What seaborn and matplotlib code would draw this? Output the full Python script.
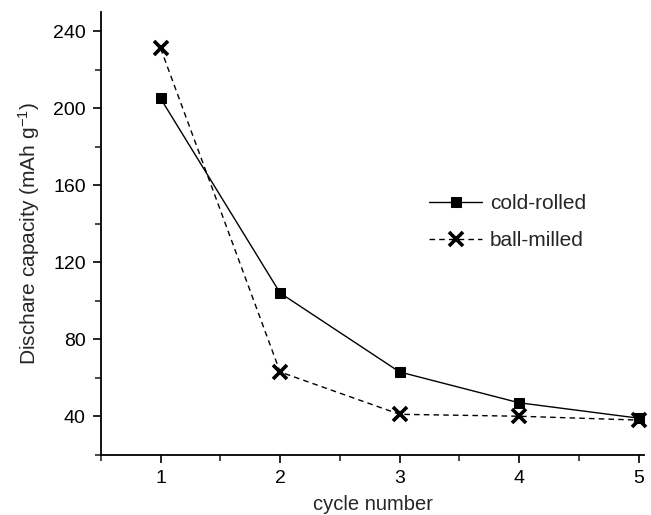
import matplotlib
matplotlib.use("Agg")
import matplotlib.pyplot as plt
import seaborn as sns
import pandas as pd
from matplotlib.ticker import MultipleLocator

cycles = [1, 2, 3, 4, 5]
cold_rolled = [205, 104, 63, 47, 39]
ball_milled = [231, 63, 41, 40, 38]

sns.set_style("ticks")
plt.rcParams['font.family'] = ['Liberation Sans', 'DejaVu Sans']
plt.rcParams['mathtext.fontset'] = 'custom'
plt.rcParams['mathtext.rm'] = 'Liberation Sans'
plt.rcParams['mathtext.it'] = 'Liberation Sans'

fig = plt.figure(figsize=(6.51, 5.15), dpi=100)
ax = fig.add_axes([0.155, 0.117, 0.835, 0.86])

df1 = pd.DataFrame({"cycle": cycles, "cap": cold_rolled})
df2 = pd.DataFrame({"cycle": cycles, "cap": ball_milled})

sns.lineplot(data=df1, x="cycle", y="cap", ax=ax, color="black", lw=1.0,
             marker="s", markersize=7, markeredgecolor="black",
             label="cold-rolled", clip_on=False)
sns.lineplot(data=df2, x="cycle", y="cap", ax=ax, color="black", lw=1.0,
             linestyle=(0, (4, 3)), marker="x", markersize=10,
             markeredgewidth=2.6, markeredgecolor="black",
             label="ball-milled", clip_on=False)

ax.set_xlim(0.5, 5.05)
ax.set_ylim(20, 250)
ax.set_xticks([1, 2, 3, 4, 5])
ax.set_yticks([40, 80, 120, 160, 200, 240])
ax.xaxis.set_minor_locator(MultipleLocator(0.5))
ax.yaxis.set_minor_locator(MultipleLocator(20))
ax.tick_params(which="major", direction="out", length=6, width=1.2, labelsize=14, colors="black", pad=5)
ax.tick_params(which="minor", direction="out", length=4, width=1.2)
for s in ["top", "right"]:
    ax.spines[s].set_visible(False)
for s in ["left", "bottom"]:
    ax.spines[s].set_linewidth(1.3)
    ax.spines[s].set_color("black")

ax.set_xlabel("cycle number", fontsize=14.5, labelpad=6)
ax.set_ylabel("Dischare capacity (mAh g$^{\\mathregular{-1}}$)", fontsize=15, labelpad=8)

leg = ax.legend(loc="upper left", bbox_to_anchor=(0.57, 0.63), frameon=False,
                fontsize=15, handlelength=2.5, handletextpad=0.4, labelspacing=0.85)

fig.savefig("out.png", dpi=100)
